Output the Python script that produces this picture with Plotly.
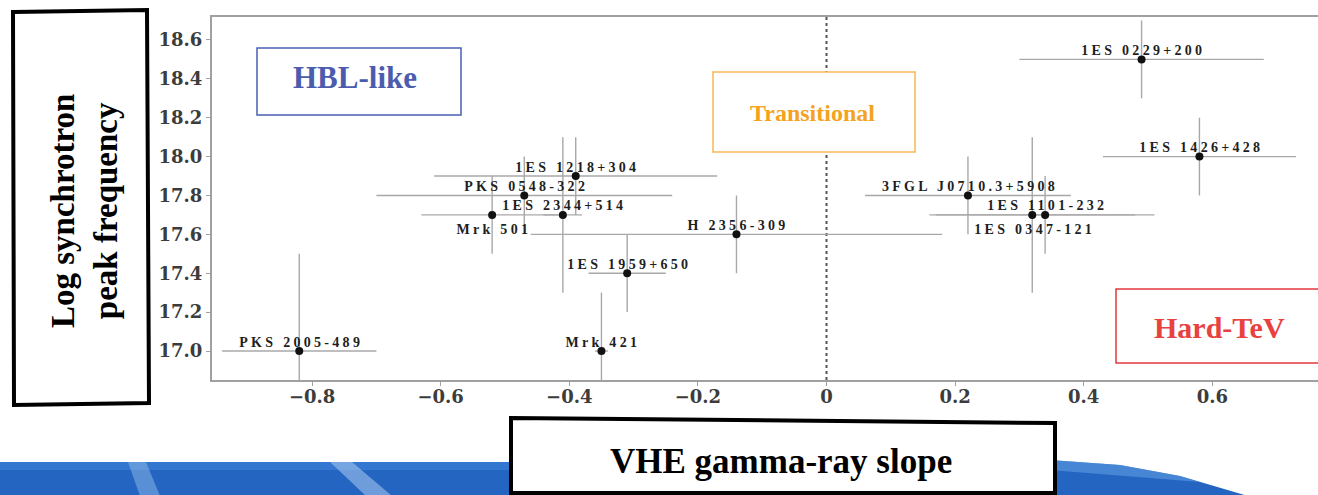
import plotly.graph_objects as go

# ---- data ---------------------------------------------------------------
sources = [
    "1ES 0229+200", "1ES 1426+428", "1ES 1218+304", "PKS 0548-322",
    "1ES 2344+514", "Mrk 501", "H 2356-309", "1ES 1959+650", "Mrk 421",
    "PKS 2005-489", "3FGL J0710.3+5908", "1ES 1101-232", "1ES 0347-121",
]
vhe_slope = [0.49, 0.58, -0.39, -0.47, -0.41, -0.52, -0.14, -0.31, -0.35,
             -0.82, 0.22, 0.34, 0.32]
vhe_slope_err = [0.19, 0.15, 0.22, 0.23, 0.03, 0.11, 0.32, 0.06, 0.01,
                 0.12, 0.16, 0.17, 0.16]
log_peak = [18.5, 18.0, 17.9, 17.8, 17.7, 17.7, 17.6, 17.4, 17.0,
            17.0, 17.8, 17.7, 17.7]
log_peak_err = [0.2, 0.2, 0.2, 0.2, 0.4, 0.2, 0.2, 0.2, 0.3,
                0.5, 0.2, 0.2, 0.4]
label_below = [False] * 5 + [True] + [False] * 6 + [True]

x_ticks = [-0.8, -0.6, -0.4, -0.2, 0, 0.2, 0.4, 0.6]
y_ticks = [17.0, 17.2, 17.4, 17.6, 17.8, 18.0, 18.2, 18.4, 18.6]

# ---- page geometry (pixels) -----------------------------------------------
W, H = 1318, 495
L, R, T, B = 212, 0, 17, 115
PW, PH = W - L - R, H - T - B
X_ZERO_PX, X_PX_PER_UNIT = 826.5, 643.0
Y_PX_PER_UNIT = 194.4


def px(x):
    return (x - L) / PW


def py(y):
    return (H - B - y) / PH


SERIF = "Liberation Serif, Times New Roman, serif"
TICK_FONT = dict(family="DejaVu Serif, serif", size=18, color="#3c3c3c", weight="bold")

fig = go.Figure()

fig.add_trace(go.Scatter(
    x=vhe_slope, y=log_peak,
    mode="markers",
    marker=dict(color="#111111", size=8),
    error_x=dict(type="data", array=vhe_slope_err, color="#a8a8a8", thickness=1.4, width=0),
    error_y=dict(type="data", array=log_peak_err, color="#a8a8a8", thickness=1.4, width=0),
    showlegend=False,
))

shapes = []
annotations = []

# source names next to each point
for name, xv, yv, below in zip(sources, vhe_slope, log_peak, label_below):
    annotations.append(dict(
        x=xv, y=yv, xref="x", yref="y", text=f"<b>{name}</b>", showarrow=False,
        xanchor="center", yanchor="middle", xshift=2, yshift=-15 if below else 9,
        font=dict(family=SERIF, size=14, color="#1e1e1e"),
    ))

# classification divider at zero slope
shapes.append(dict(type="line", xref="x", yref="paper", x0=0, x1=0, y0=0, y1=1,
                   line=dict(color="#555555", width=2, dash="dot"), layer="below"))


def region(x0, y0, x1, y1, border, text, color, size, cx, cy):
    shapes.append(dict(type="rect", xref="paper", yref="paper",
                       x0=px(x0), x1=px(x1), y0=py(y1), y1=py(y0),
                       line=dict(color=border, width=1.5), fillcolor="white", layer="above"))
    annotations.append(dict(xref="paper", yref="paper", x=px(cx), y=py(cy),
                            text=f"<b>{text}</b>", showarrow=False,
                            font=dict(family=SERIF, size=size, color=color),
                            xanchor="center", yanchor="middle"))


region(257, 48, 461, 115, "#4a60b4", "HBL-like", "#4b5cae", 31, 355, 77)
region(713, 72, 915, 152, "#f6b957", "Transitional", "#f5a21f", 24, 812, 113)
region(1116, 289, 1330, 363, "#e2383d", "Hard-TeV", "#e8413f", 30, 1219, 327)


def path_of(points):
    return "M " + " L ".join(f"{px(a)},{py(b)}" for a, b in points) + " Z"


# slide backdrop band along the bottom
def poly(points, color, opacity=1.0):
    shapes.append(dict(type="path", xref="paper", yref="paper", path=path_of(points),
                       fillcolor=color, opacity=opacity, line=dict(width=0), layer="below"))


poly([(0, 462), (515, 462), (515, 496), (0, 496)], "#2465c2")
poly([(0, 462), (515, 462), (515, 470), (0, 470)], "#3b7fd6", 0.7)
poly([(128, 462), (146, 462), (160, 496), (140, 496)], "#9cc3ee", 0.45)
poly([(330, 462), (352, 462), (392, 496), (366, 496)], "#b9d6f3", 0.5)
poly([(1050, 460), (1120, 465), (1180, 476), (1248, 496), (1050, 496)], "#2465c2")
poly([(1050, 460), (1120, 465), (1180, 476), (1200, 482), (1050, 470)], "#5f9ce0", 0.6)

# axis-title boxes
shapes.append(dict(type="path", xref="paper", yref="paper",
                   path=path_of([(13, 12), (147, 10), (149, 403), (14, 405)]),
                   fillcolor="white", line=dict(color="black", width=4), layer="above"))
shapes.append(dict(type="path", xref="paper", yref="paper",
                   path=path_of([(511, 418), (1055, 423), (1055, 493), (511, 493)]),
                   fillcolor="white", line=dict(color="black", width=4), layer="above"))

annotations.append(dict(xref="paper", yref="paper", x=px(84), y=py(211),
                        text="<b>Log synchrotron<br>peak frequency</b>", textangle=-90,
                        showarrow=False, font=dict(family=SERIF, size=33, color="black"),
                        xanchor="center", yanchor="middle"))
annotations.append(dict(xref="paper", yref="paper", x=px(781), y=py(461),
                        text="<b>VHE gamma-ray slope</b>", showarrow=False,
                        font=dict(family=SERIF, size=35, color="black"),
                        xanchor="center", yanchor="middle"))

axis_common = dict(showgrid=False, zeroline=False, showline=True, linecolor="#a0a0a0",
                   linewidth=2, ticks="outside", ticklen=4, tickcolor="#a0a0a0",
                   tickfont=TICK_FONT, automargin=False)

y_bottom = 17.0 - (H - B - 351) / Y_PX_PER_UNIT

fig.update_layout(
    width=W, height=H, template="none",
    margin=dict(l=L, r=R, t=T, b=B, pad=0),
    paper_bgcolor="white", plot_bgcolor="white",
    xaxis=dict(range=[(L - X_ZERO_PX) / X_PX_PER_UNIT, (W - X_ZERO_PX) / X_PX_PER_UNIT],
               tickvals=x_ticks, mirror=True, ticklabelstandoff=-5, **axis_common),
    yaxis=dict(range=[y_bottom, y_bottom + PH / Y_PX_PER_UNIT],
               tickvals=y_ticks, tickformat=".1f", **axis_common),
    shapes=shapes, annotations=annotations,
)

n_labels = len(sources)
fig.write_html(
    "out.html",
    post_script=(
        "document.querySelectorAll('g.annotation').forEach(function(g){"
        "var i=+g.getAttribute('data-index');"
        f"if(i<{n_labels}){{var t=g.querySelector('text.annotation-text');"
        "if(t){t.style.letterSpacing='3.3px';}}});"
    ),
)
